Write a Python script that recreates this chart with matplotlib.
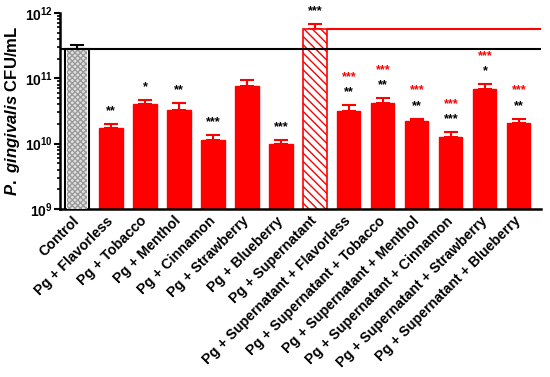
import numpy as np
import matplotlib
matplotlib.use("Agg")
from matplotlib import pyplot as plt

plt.rcParams['font.family'] = ['Liberation Sans', 'DejaVu Sans']
plt.rcParams['font.weight'] = 'bold'
plt.rcParams['mathtext.fontset'] = 'custom'
plt.rcParams['mathtext.rm'] = 'Liberation Sans:bold'
plt.rcParams['mathtext.bf'] = 'Liberation Sans:bold'
plt.rcParams['mathtext.it'] = 'Liberation Sans:bold:italic'
plt.rcParams['hatch.linewidth'] = 1.0

# data
groups = ["Control", "Pg + Flavorless", "Pg + Tobacco", "Pg + Menthol",
          "Pg + Cinnamon", "Pg + Strawberry", "Pg + Blueberry",
          "Pg + Supernatant", "Pg + Supernatant + Flavorless",
          "Pg + Supernatant + Tobacco", "Pg + Supernatant + Menthol",
          "Pg + Supernatant + Cinnamon", "Pg + Supernatant + Strawberry",
          "Pg + Supernatant + Blueberry"]
cfu = [2.8e11, 1.74e10, 4.05e10, 3.27e10, 1.14e10, 7.6e10, 9.9e9,
       5.7e11, 3.16e10, 4.2e10, 2.2e10, 1.26e10, 6.9e10, 2.07e10]
err = [0.4e11, 0.26e10, 0.6e10, 0.9e10, 0.21e10, 1.7e10, 0.16e10,
       1.1e11, 0.74e10, 0.8e10, 0.2e10, 0.25e10, 1.2e10, 0.33e10]
black_stars = ["", "**", "*", "**", "***", "", "***",
               "***", "**", "**", "**", "***", "*", "**"]
red_stars = ["", "", "", "", "", "", "",
             "", "***", "***", "***", "***", "***", "***"]

red = "#ff0000"
x = np.arange(len(groups))
w = 0.68

fig = plt.figure(figsize=(5.5, 3.77), dpi=100)
ax = fig.add_axes([60 / 550, 1 - 209 / 377, 481 / 550, 196 / 377])

# error bars first so the bars hide the lower cap
for i in range(len(groups)):
    c = "black" if i == 0 else red
    ax.errorbar(x[i], cfu[i], yerr=[[0], [err[i]]], fmt="none", ecolor=c,
                capsize=5, elinewidth=1.5, capthick=1.5, zorder=1)

# control: light grey checker pattern inside a black outline
ax.bar(x[0], cfu[0], w, color="white", edgecolor="black", linewidth=1.5, zorder=2)
ax.bar(x[0], cfu[0], w - 0.08, color="#e2e2e2", hatch="xxxxxx",
       edgecolor="#9a9a9a", linewidth=0, zorder=3)

# treated groups
for i in range(1, len(groups)):
    if i == 7:
        ax.bar(x[i], cfu[i], w, color="white", hatch="\\\\\\\\",
               edgecolor=red, linewidth=1.2, zorder=2)
    else:
        ax.bar(x[i], cfu[i], w, color=red, edgecolor=red, zorder=2)

# reference lines
ax.hlines(cfu[0], -0.5, 13.65, colors="black", linewidth=1.5, zorder=4)
ax.hlines(cfu[7], x[7] + w / 2, 13.65, colors=red, linewidth=1.5, zorder=4)

# significance stars
for i in range(len(groups)):
    top = cfu[i] + err[i]
    if black_stars[i]:
        ax.annotate(black_stars[i], (x[i], top), xytext=(0, 5),
                    textcoords="offset points", ha="center", va="bottom",
                    fontsize=9, fontweight="bold", color="black")
    if red_stars[i]:
        ax.annotate(red_stars[i], (x[i], top), xytext=(0, 16),
                    textcoords="offset points", ha="center", va="bottom",
                    fontsize=9, fontweight="bold", color=red)

ax.set_yscale("log")
ax.set_ylim(1e9, 1e12)
ax.set_xlim(-0.5, 13.65)
ax.set_yticks([1e9, 1e10, 1e11, 1e12])
ax.set_yticklabels([r"$\mathbf{10^{9}}$", r"$\mathbf{10^{10}}$",
                    r"$\mathbf{10^{11}}$", r"$\mathbf{10^{12}}$"], fontsize=10)
ax.tick_params(axis="y", which="major", direction="out", length=4, width=1.5, pad=1)
ax.tick_params(axis="y", which="minor", direction="out", length=2.5, width=1.2)
ax.set_xticks(x)
ax.set_xticklabels(groups, rotation=45, ha="right", va="center",
                   rotation_mode="anchor", fontsize=10.2, fontweight="bold")
ax.tick_params(axis="x", length=0, pad=7)

ax.spines["top"].set_visible(False)
ax.spines["right"].set_visible(False)
ax.spines["left"].set_linewidth(1.8)
ax.spines["bottom"].set_linewidth(1.8)

ax.set_ylabel(r"$\it{P.\ gingivalis}$ CFU/mL", fontsize=12, fontweight="bold",
              labelpad=2)

fig.savefig("out.png", dpi=100)
